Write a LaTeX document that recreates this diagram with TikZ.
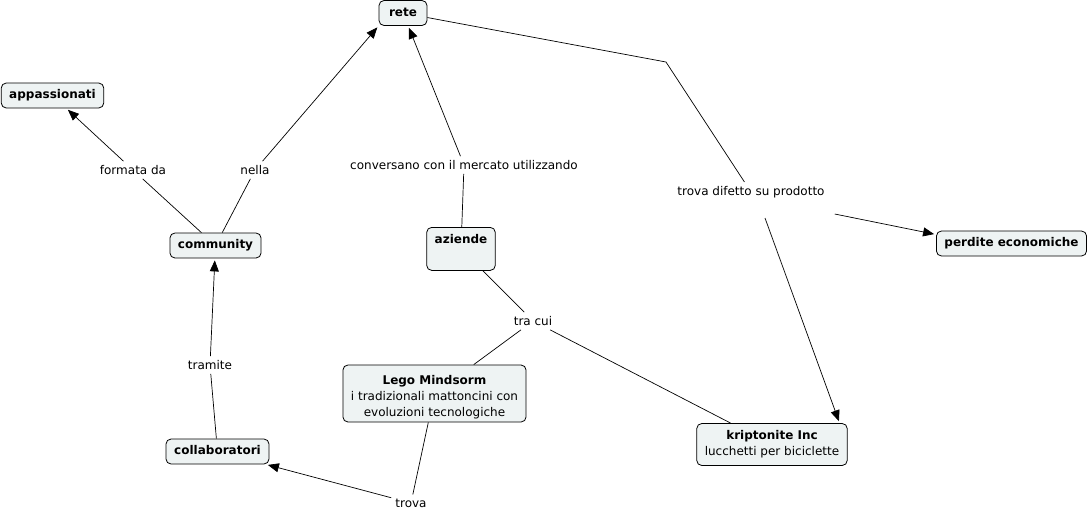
\documentclass[tikz,border=0pt]{standalone}
\usepackage{fontspec}
\setmainfont{DejaVu Sans}
\usepackage{tikz}
\usetikzlibrary{arrows.meta}
\newcommand{\mapfont}{\fontsize{12}{16}\selectfont}
\definecolor{cfill}{RGB}{238,243,243}
\tikzset{
  box/.style={draw,rounded corners=5pt,fill=cfill,align=center,
              inner xsep=8pt,inner ysep=6.5pt,line width=0.8pt,font=\mapfont},
  cbox/.style={box,font=\mapfont\bfseries,text height=9pt,text depth=3pt},
  lbl/.style={inner sep=4pt,font=\mapfont},
  ln/.style={line width=0.7pt},
  fl/.style={ln,-{Triangle[length=11pt,width=9pt]},shorten >=2pt},
}

\begin{document}
\begin{tikzpicture}[x=1pt,y=-1pt]
\useasboundingbox (0,0) rectangle (1088,512);
% concetti
\node[cbox, minimum width=48pt] (rete) at (403,13) {rete};
\node[cbox, minimum width=101pt] (appas) at (52.5,95.5) {appassionati};
\node[cbox, minimum width=91pt] (comm) at (215.5,245.5) {community};
\node[cbox, minimum width=68pt, text height=10pt, text depth=20pt, anchor=north] (aziende) at (461,227) {aziende};
\node[box, minimum width=183pt, minimum height=57pt, inner ysep=3pt] (lego) at (434.5,393.5)
  {\rule{0pt}{16pt}{\bfseries Lego Mindsorm}\\i tradizionali mattoncini con\\evoluzioni tecnologiche};
\node[box, minimum width=150pt, minimum height=42pt] (kript) at (772,444.5)
  {{\bfseries kriptonite Inc}\\lucchetti per biciclette};
\node[cbox, minimum width=149pt] (perdite) at (1011.5,243.5) {perdite economiche};
\node[cbox, minimum width=103pt] (collab) at (217.5,451.5) {collaboratori};
% frasi di collegamento
\node[lbl] (formata) at (133,170) {formata da};
\node[lbl] (nella) at (255,170) {nella};
\node[lbl] (convers) at (464,165) {conversano con il mercato utilizzando};
\node[lbl] (difetto) at (751,192) {trova difetto su prodotto};
\node[lbl] (tracui) at (533,321) {tra cui};
\node[lbl] (tramite) at (210,365) {tramite};
\node[lbl] (trova) at (411,503) {trova};
\coordinate (bend) at (666,62);
% collegamenti
\draw[ln] (comm) -- (formata);
\draw[fl] (formata) -- (appas);
\draw[ln] (comm) -- (nella);
\draw[fl] (nella) -- (rete.south west);
\draw[ln] (aziende) -- (convers);
\draw[fl] (convers) -- (rete);
\draw[ln] (rete) -- (bend) -- (difetto);
\draw[fl] ([xshift=6pt,yshift=-12pt]difetto.south east) -- ([yshift=9pt]perdite.west);
\draw[fl] ([xshift=14pt,yshift=-16pt]difetto.south) -- ([xshift=-8pt]kript.north east);
\draw[ln] (aziende) -- (tracui);
\draw[ln] (tracui) -- (lego);
\draw[ln] (tracui) -- (kript);
\draw[ln] (collab) -- (tramite);
\draw[fl] (tramite) -- (comm);
\draw[ln] (lego) -- (trova);
\draw[fl] (trova) -- (collab);
\end{tikzpicture}
\end{document}
